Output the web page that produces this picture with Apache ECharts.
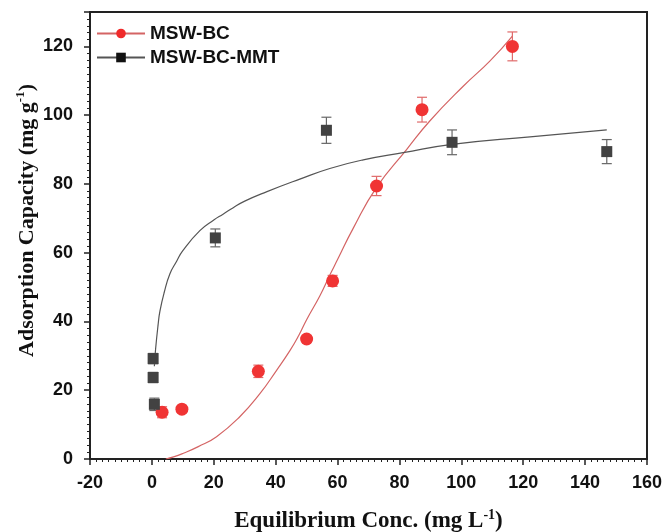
<!DOCTYPE html>
<html>
<head>
<meta charset="utf-8">
<script src="https://cdn.jsdelivr.net/npm/echarts@6/dist/echarts.min.js"></script>
<style>
    html, body { margin: 0; padding: 0; background: #fff; }
    #chart { width: 664px; height: 532px; }
</style>
</head>
<body>
<div id="chart"></div>
<script>
// MSW-BC 实测点
var bcX = [3.3, 9.7, 34.4, 50, 58.4, 72.6, 87.3, 116.5];
var bcY = [13.6, 14.5, 25.5, 34.9, 51.8, 79.4, 101.6, 120];
var bcErr = [1.6, 1.0, 1.8, 1.0, 1.6, 2.8, 3.6, 4.2];

// MSW-BC-MMT 实测点
var mmtX = [0.4, 0.4, 0.8, 20.5, 56.4, 97, 147];
var mmtY = [29.2, 23.7, 15.9, 64.3, 95.6, 92.1, 89.4];
var mmtErr = [1.5, 1.5, 1.8, 2.6, 3.8, 3.6, 3.5];

// 拟合曲线 (从图上读的点)
var bcFitX = [4.5, 7, 10, 15, 20.9, 28.4, 34.9, 40.3, 44.6, 47.5, 50, 54.3, 57.5, 60, 65, 72.6, 82.3, 89.8, 100.6, 109.2, 116.5];
var bcFitY = [0, 0.6, 1.6, 3.6, 6.5, 12.3, 19, 25.8, 31.5, 36, 40.5, 47.5, 53.5, 58, 67, 79, 90, 98.3, 108.4, 115.7, 123];
var mmtFitX = [0.8, 1.2, 2, 2.6, 4, 5.8, 8, 10, 15.5, 20, 23, 26.3, 30, 37, 47.8, 57.5, 68.3, 81.2, 97, 122.2, 147];
var mmtFitY = [27, 32, 39, 43, 48.5, 53.8, 57.5, 60.6, 66.4, 69.5, 71.2, 73.1, 75, 77.7, 81.4, 84.5, 87, 89.1, 91.5, 93.7, 95.7];

var legendNames = ['MSW-BC', 'MSW-BC-MMT'];

function zip(xs, ys) {
    return xs.map(function (x, i) { return [x, ys[i]]; });
}
function zipErr(xs, ys, es) {
    return xs.map(function (x, i) { return [x, ys[i] - es[i], ys[i] + es[i]]; });
}

// 误差棒
function errorBar(color) {
    return function (params, api) {
        var lo = api.coord([api.value(0), api.value(1)]);
        var hi = api.coord([api.value(0), api.value(2)]);
        var w = 5;
        var style = { stroke: color, lineWidth: 1.2 };
        return {
            type: 'group',
            children: [
                { type: 'line', shape: { x1: lo[0], y1: lo[1], x2: hi[0], y2: hi[1] }, style: style },
                { type: 'line', shape: { x1: lo[0] - w, y1: lo[1], x2: lo[0] + w, y2: lo[1] }, style: style },
                { type: 'line', shape: { x1: hi[0] - w, y1: hi[1], x2: hi[0] + w, y2: hi[1] }, style: style }
            ]
        };
    };
}

var dom = document.getElementById('chart');
var chart = echarts.init(dom);

var axisText = { fontFamily: 'Liberation Sans', fontWeight: 'bold', fontSize: 18, color: '#111' };
function titleRich(size) {
    return {
        a: { fontFamily: 'Liberation Serif', fontWeight: 'bold', fontSize: size, color: '#111', lineHeight: size + 4 },
        s: { fontFamily: 'Liberation Serif', fontWeight: 'bold', fontSize: Math.round(size * 0.6), color: '#111', lineHeight: size + 4, verticalAlign: 'top' }
    };
}

var option = {
    animation: false,
    backgroundColor: '#fff',
    grid: {
        left: 90, right: 17, top: 12, bottom: 73,
        outerBoundsMode: 'none',
        containLabel: false,
        show: true, borderColor: '#222', borderWidth: 2
    },
    legend: {
        data: legendNames,
        orient: 'vertical',
        left: 91, top: 19,
        itemWidth: 48, itemHeight: 12, itemGap: 5,
        textStyle: { fontFamily: 'Liberation Sans', fontWeight: 'bold', fontSize: 19, color: '#111' }
    },
    xAxis: {
        type: 'value',
        min: -20, max: 160, interval: 20,
        name: '{a|Equilibrium Conc. (mg L}{s|-1}{a|)}',
        nameLocation: 'middle', nameGap: 49,
        nameTextStyle: { rich: titleRich(23) },
        axisLine: { onZero: false, lineStyle: { color: '#222', width: 2 } },
        axisTick: { length: 6, lineStyle: { color: '#222', width: 1.5 } },
        minorTick: { show: true, splitNumber: 10, length: 3, lineStyle: { color: '#222', width: 1 } },
        splitLine: { show: false },
        axisLabel: Object.assign({ margin: 15 }, axisText)
    },
    yAxis: {
        type: 'value',
        min: 0, max: 130, interval: 20,
        name: '{a|Adsorption Capacity (mg g}{s|-1}{a|)}',
        nameLocation: 'middle', nameGap: 50, nameRotate: 90,
        nameMoveOverlap: false,
        nameTextStyle: { rich: titleRich(22), padding: [0, 0, 0, 30] },
        axisLine: { onZero: false, lineStyle: { color: '#222', width: 2 } },
        axisTick: { length: 6, lineStyle: { color: '#222', width: 1.5 } },
        minorTick: { show: true, splitNumber: 10, length: 3, lineStyle: { color: '#222', width: 1 } },
        splitLine: { show: false },
        axisLabel: Object.assign({ margin: 17, showMaxLabel: false }, axisText)
    },
    series: [
        {
            name: 'MSW-BC',
            type: 'line',
            data: zip(bcFitX, bcFitY),
            smooth: 0.5,
            showSymbol: false,
            symbol: 'circle', symbolSize: 12,
            itemStyle: { color: '#f02a2a' },
            lineStyle: { color: '#d46464', width: 1.2 },
            z: 2
        },
        {
            name: 'MSW-BC-MMT',
            type: 'line',
            data: zip(mmtFitX, mmtFitY),
            smooth: 0.5,
            showSymbol: false,
            symbol: 'rect', symbolSize: 10,
            itemStyle: { color: '#111' },
            lineStyle: { color: '#555', width: 1.2 },
            z: 2
        },
        {
            name: 'bcErr',
            type: 'custom',
            renderItem: errorBar('#e06a6a'),
            data: zipErr(bcX, bcY, bcErr),
            encode: { x: 0, y: [1, 2] },
            z: 3
        },
        {
            name: 'mmtErr',
            type: 'custom',
            renderItem: errorBar('#666'),
            data: zipErr(mmtX, mmtY, mmtErr),
            encode: { x: 0, y: [1, 2] },
            z: 3
        },
        {
            name: 'bcPts',
            type: 'scatter',
            data: zip(bcX, bcY),
            symbol: 'circle', symbolSize: 13,
            itemStyle: { color: '#f03434', opacity: 1 },
            z: 4
        },
        {
            name: 'mmtPts',
            type: 'scatter',
            data: zip(mmtX, mmtY),
            symbol: 'rect', symbolSize: 11,
            itemStyle: { color: '#424242', opacity: 1 },
            z: 4
        }
    ]
};

if (option && typeof option === 'object') {
    chart.setOption(option, true);
}
</script>
</body>
</html>
